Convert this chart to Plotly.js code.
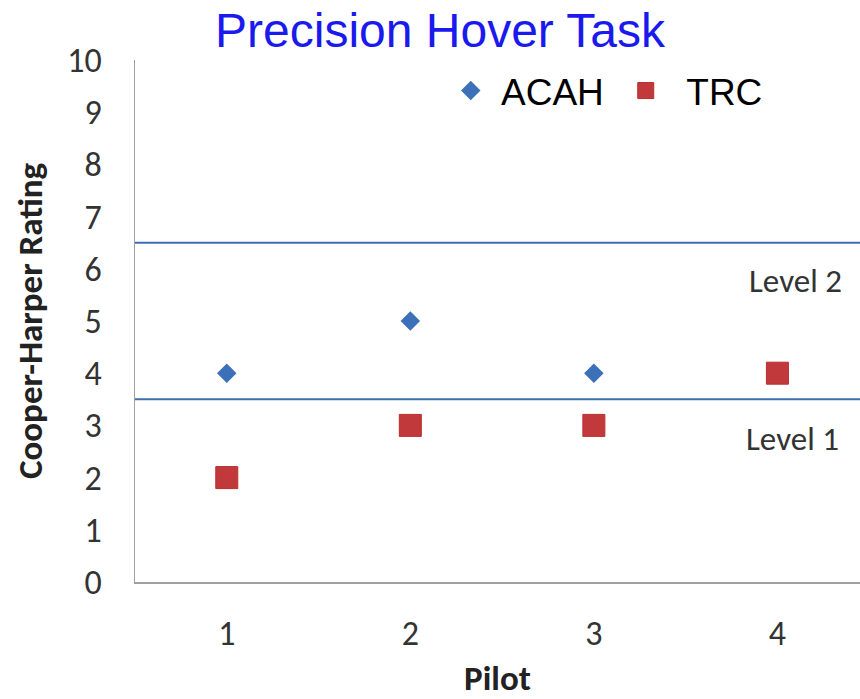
<!DOCTYPE html>
<html>
<head>
<meta charset="utf-8">
<script src="https://cdn.plot.ly/plotly-3.0.1.min.js"></script>
<style>html,body{margin:0;padding:0;background:#fff;}#chart{width:860px;height:699px;}</style>
</head>
<body>
<div id="chart"></div>
<script>
const pilots = [1, 2, 3, 4];
const acahPilots = [1, 2, 3];
const acahRatings = [4, 5, 4];
const trcPilots = [1, 2, 3, 4];
const trcRatings = [2, 3, 3, 4];
const levelBounds = [3.5, 6.5];
const levelLabels = ["Level 1", "Level 2"];
const levelLabelY = [2.74, 5.77];
const levelLabelX = [4.08, 4.1];
const yTicks = [0,1,2,3,4,5,6,7,8,9,10];

const calibri = "Carlito, Lato, 'Open Sans', sans-serif";

const traces = [
  {
    x: acahPilots, y: acahRatings, name: "\u00a0ACAH", type: "scatter", mode: "markers",
    marker: {symbol: "diamond", size: 15, color: "#3c70b8"}
  },
  {
    x: trcPilots, y: trcRatings, name: "\u00a0\u00a0TRC", type: "scatter", mode: "markers",
    marker: {symbol: "square", size: 22, color: "#c2393c", line: {color: "#b8302f", width: 1}}
  }
];

const shapes = levelBounds.map(v => ({
  type: "line", xref: "paper", x0: 0, x1: 1, yref: "y", y0: v, y1: v,
  line: {color: "#3f6fae", width: 2}
}));

const annotations = levelLabels.map((t, i) => ({
  text: t, x: levelLabelX[i], y: levelLabelY[i], xref: "x", yref: "y",
  showarrow: false, xanchor: "center", yanchor: "middle",
  font: {family: calibri, size: 33, color: "#333333"}
}));

const layout = {
  width: 860, height: 699,
  margin: {l: 135, r: 0, t: 60, b: 117},
  paper_bgcolor: "#ffffff", plot_bgcolor: "#ffffff",
  title: {
    text: "Precision Hover Task", x: 440/860, xanchor: "center",
    y: 1 - 30/699, yanchor: "middle", yref: "container",
    font: {family: "Liberation Sans, Arial, sans-serif", size: 48, color: "#1a1aee"}
  },
  xaxis: {
    range: [0.5, 4.45], tickvals: pilots, ticktext: pilots.map(String),
    showgrid: false, zeroline: false, showline: true, linecolor: "#a0a0a0", linewidth: 1.5,
    ticks: "", ticklabelstandoff: 21,
    tickfont: {family: calibri, size: 34, color: "#333333"},
    title: {text: "<b>Pilot</b>", standoff: 26, font: {family: calibri, size: 35, color: "#222222"}}
  },
  yaxis: {
    range: [0, 10], tickvals: yTicks, ticktext: yTicks.map(String),
    showgrid: false, zeroline: false, showline: true, linecolor: "#a0a0a0", linewidth: 1.5,
    ticks: "", ticklabelstandoff: 25,
    tickfont: {family: calibri, size: 34, color: "#333333"},
    title: {text: "<b>Cooper-Harper Rating</b>", standoff: 14, font: {family: calibri, size: 35, color: "#222222"}}
  },
  showlegend: true,
  legend: {
    orientation: "h", x: 0.4355, xanchor: "left", y: 1, yanchor: "top",
    font: {family: "Liberation Sans, Arial, sans-serif", size: 37, color: "#000000"},
    bgcolor: "rgba(0,0,0,0)", itemwidth: 30, tracegroupgap: 0,
    entrywidth: 130, entrywidthmode: "pixels"
  },
  shapes: shapes,
  annotations: annotations
};

Plotly.newPlot("chart", traces, layout, {displayModeBar: false, staticPlot: true});
</script>
</body>
</html>
